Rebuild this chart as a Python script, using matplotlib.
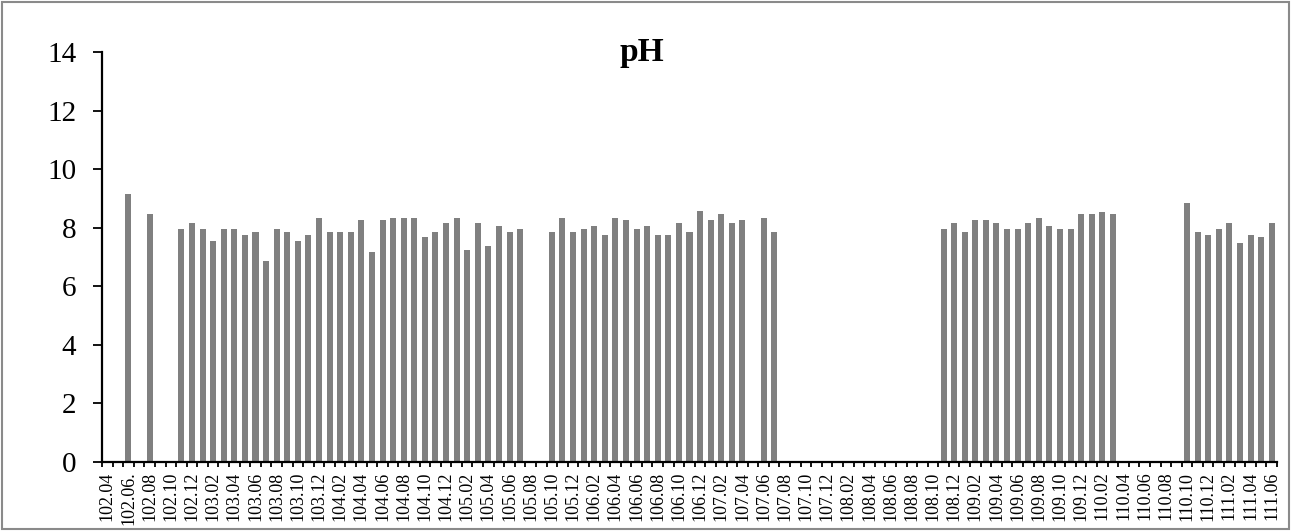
import matplotlib.pyplot as plt
from matplotlib.patches import Rectangle
import numpy as np

plt.rcParams['font.family'] = ['Liberation Serif', 'DejaVu Serif']

# tick labels shown (every other month)
shown_labels = ['102.04', '102.06.', '102.08', '102.10', '102.12',
                '103.02', '103.04', '103.06', '103.08', '103.10', '103.12',
                '104.02', '104.04', '104.06', '104.08', '104.10', '104.12',
                '105.02', '105.04', '105.06', '105.08', '105.10', '105.12',
                '106.02', '106.04', '106.06', '106.08', '106.10', '106.12',
                '107.02', '107.04', '107.06', '107.08', '107.10', '107.12',
                '108.02', '108.04', '108.06', '108.08', '108.10', '108.12',
                '109.02', '109.04', '109.06', '109.08', '109.10', '109.12',
                '110.02', '110.04', '110.06', '110.08', '110.10', '110.12',
                '111.02', '111.04', '111.06']

# monthly pH values, 102.04 .. 111.06 (None = no sample)
ph_102 = [None, None, 9.15, None, 8.48, None, None, 7.96, 8.17]            # 102.04-102.12
ph_103 = [7.96, 7.55, 7.96, 7.96, 7.76, 7.84, 6.86, 7.96, 7.84, 7.55, 7.76, 8.34]
ph_104 = [7.84, 7.84, 7.84, 8.27, 7.17, 8.27, 8.34, 8.34, 8.34, 7.67, 7.84, 8.17]
ph_105 = [8.34, 7.25, 8.17, 7.37, 8.06, 7.84, 7.96, None, None, 7.84, 8.34, 7.84]
ph_106 = [7.96, 8.06, 7.76, 8.34, 8.27, 7.96, 8.06, 7.76, 7.76, 8.17, 7.84, 8.56]
ph_107 = [8.26, 8.48, 8.17, 8.26, None, 8.34, 7.84, None, None, None, None, None]
ph_108 = [None, None, None, None, None, None, None, None, None, None, 7.96, 8.17]
ph_109 = [7.84, 8.26, 8.26, 8.17, 7.96, 7.96, 8.17, 8.34, 8.06, 7.96, 7.96, 8.48]
ph_110 = [8.48, 8.55, 8.48, None, None, None, None, None, None, 8.85, 7.84, 7.76]
ph_111 = [7.96, 8.17, 7.47, 7.76, 7.67, 8.17]                              # 111.01-111.06

values = ph_102 + ph_103 + ph_104 + ph_105 + ph_106 + ph_107 + ph_108 + ph_109 + ph_110 + ph_111
heights = np.array([np.nan if v is None else v for v in values], dtype=float)
n = len(heights)
x = np.arange(n)

fig = plt.figure(figsize=(12.95, 5.31), dpi=100)
ax = fig.add_axes([102 / 1295, 1 - 462 / 531, 1175 / 1295, 410 / 531])

ax.bar(x, np.nan_to_num(heights), width=0.57, color='#808080')

ax.set_xlim(-0.5, n - 0.5)
ax.set_ylim(0, 14)
ax.set_yticks(range(0, 15, 2))
ax.tick_params(axis='y', labelsize=21, length=6.5, width=1.3, pad=12, direction='out')

# tick marks between categories, labels every other month
ax.set_xticks(np.arange(-0.5, n, 1))
ax.set_xticklabels([])
ax.tick_params(axis='x', which='major', length=3.6, width=1.3, direction='out')
ax.set_xticks(np.arange(0, n, 2), shown_labels, minor=True, rotation=90)
ax.tick_params(axis='x', which='minor', length=0, labelsize=13, pad=7)

for s in ['top', 'right']:
    ax.spines[s].set_visible(False)
for s in ['left', 'bottom']:
    ax.spines[s].set_linewidth(1.6)
    ax.spines[s].set_color('black')

fig.text(642 / 1295, 1 - 52 / 531, 'pH', ha='center', va='center',
         fontsize=24, fontweight='bold')

fig.patches.append(Rectangle((2 / 1295, 2 / 531), 1287 / 1295, 527 / 531,
                             transform=fig.transFigure, fill=False,
                             edgecolor='#8a8a8a', linewidth=1.5))

fig.savefig('out.png', dpi=100)
